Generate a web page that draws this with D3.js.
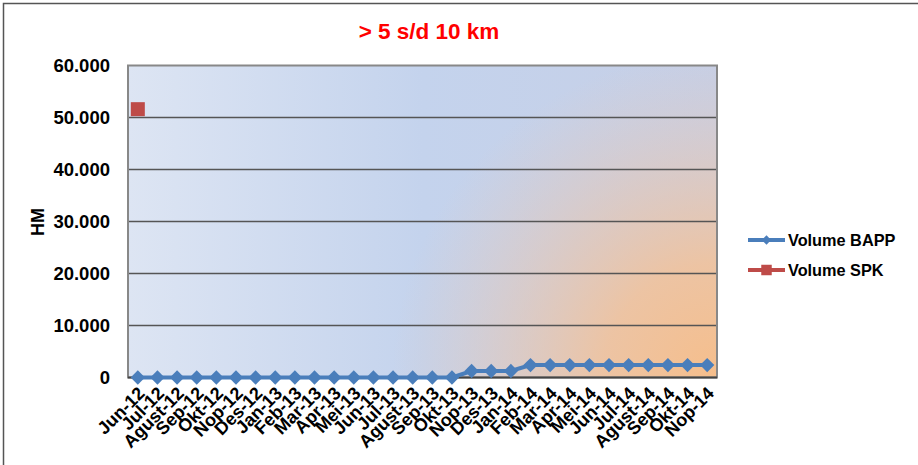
<!DOCTYPE html>
<html>
<head>
<meta charset="utf-8">
<script src="https://cdn.jsdelivr.net/npm/d3@7"></script>
<style>
  body { margin: 0; background: #fff; }
  text { font-family: "Liberation Sans", Arial, sans-serif; font-weight: bold; }
</style>
</head>
<body>
<div id="chart"></div>
<script>
var months = ['Jun-12', 'Jul-12', 'Agust-12', 'Sep-12', 'Okt-12', 'Nop-12', 'Des-12',
  'Jan-13', 'Feb-13', 'Mar-13', 'Apr-13', 'Mei-13', 'Jun-13', 'Jul-13', 'Agust-13',
  'Sep-13', 'Okt-13', 'Nop-13', 'Des-13', 'Jan-14', 'Feb-14', 'Mar-14', 'Apr-14',
  'Mei-14', 'Jun-14', 'Jul-14', 'Agust-14', 'Sep-14', 'Okt-14', 'Nop-14'];
var volumeBAPP = [0, 0, 0, 0, 0, 0, 0, 0, 0, 0, 0, 0, 0, 0, 0, 0, 0,
  1250, 1250, 1250, 2400, 2400, 2400, 2400, 2400, 2400, 2400, 2400, 2400, 2400];
var volumeSPK = [51600];
var yTicks = [0, 10000, 20000, 30000, 40000, 50000, 60000];

var W = 918, H = 465;
var plot = { left: 128, top: 65.5, right: 717, bottom: 377.5 };

var svg = d3.select('#chart').append('svg')
  .attr('width', W).attr('height', H);

// gradients for plot area
var defs = svg.append('defs');
var lin = defs.append('linearGradient').attr('id', 'bgLin')
  .attr('x1', 0).attr('y1', 0).attr('x2', 1).attr('y2', 0);
lin.append('stop').attr('offset', 0).attr('stop-color', '#dde5f3');
lin.append('stop').attr('offset', 0.5).attr('stop-color', '#c4d3ed');
lin.append('stop').attr('offset', 1).attr('stop-color', '#c6cfe6');
var rad = defs.append('radialGradient').attr('id', 'bgRad')
  .attr('gradientUnits', 'userSpaceOnUse')
  .attr('cx', plot.right).attr('cy', plot.bottom).attr('r', 325);
rad.append('stop').attr('offset', 0).attr('stop-color', '#f6be8b').attr('stop-opacity', 1);
rad.append('stop').attr('offset', 0.35).attr('stop-color', '#f2c29a').attr('stop-opacity', 0.88);
rad.append('stop').attr('offset', 1).attr('stop-color', '#e8c8b8').attr('stop-opacity', 0);

// outer frame
svg.append('rect')
  .attr('x', 3.5).attr('y', 3.5).attr('width', W + 10).attr('height', H - 2.5)
  .attr('fill', '#fff').attr('stroke', '#555').attr('stroke-width', 1.5);

var x = d3.scaleBand().domain(months).range([plot.left, plot.right]);
var y = d3.scaleLinear().domain([0, 60000]).range([plot.bottom, plot.top]);
var cx = function(m) { return x(m) + x.bandwidth() / 2; };

svg.append('rect')
  .attr('x', plot.left).attr('y', plot.top)
  .attr('width', plot.right - plot.left).attr('height', plot.bottom - plot.top)
  .attr('fill', 'url(#bgLin)');
svg.append('rect')
  .attr('x', plot.left).attr('y', plot.top)
  .attr('width', plot.right - plot.left).attr('height', plot.bottom - plot.top)
  .attr('fill', 'url(#bgRad)');

// gridlines
svg.append('g').selectAll('line').data(yTicks.slice(1, -1)).enter().append('line')
  .attr('x1', plot.left).attr('x2', plot.right)
  .attr('y1', function(d) { return y(d); }).attr('y2', function(d) { return y(d); })
  .attr('stroke', '#555').attr('stroke-width', 1.3);

// plot border
svg.append('rect')
  .attr('x', plot.left).attr('y', plot.top)
  .attr('width', plot.right - plot.left).attr('height', plot.bottom - plot.top)
  .attr('fill', 'none').attr('stroke', '#888').attr('stroke-width', 2);
svg.append('line')
  .attr('x1', plot.left).attr('x2', plot.right)
  .attr('y1', plot.bottom).attr('y2', plot.bottom)
  .attr('stroke', '#444').attr('stroke-width', 2);

// y axis labels
var yFmt = function(d) { return d === 0 ? '0' : d3.format(',')(d).replace(/,/g, '.'); };
var yAxis = svg.append('g')
  .attr('transform', 'translate(' + plot.left + ',0)')
  .call(d3.axisLeft(y).tickValues(yTicks).tickFormat(yFmt).tickSize(0).tickPadding(18));
yAxis.select('.domain').remove();
yAxis.selectAll('text').attr('font-size', 18.5).attr('fill', '#000')
  .attr('font-family', '"Liberation Sans", Arial, sans-serif');

// x axis labels
var xAxis = svg.append('g')
  .attr('transform', 'translate(0,' + plot.bottom + ')')
  .call(d3.axisBottom(x).tickSize(0).tickPadding(0));
xAxis.select('.domain').remove();
xAxis.selectAll('text')
  .attr('font-size', 18).attr('fill', '#000')
  .attr('font-family', '"Liberation Sans", Arial, sans-serif')
  .attr('text-anchor', 'end')
  .attr('dy', 0).attr('y', 0)
  .attr('transform', 'translate(8,17) rotate(-45)');

// y axis title
svg.append('text')
  .attr('transform', 'translate(44,222) rotate(-90)')
  .attr('text-anchor', 'middle').attr('font-size', 18).attr('fill', '#000')
  .text('HM');

// title
svg.append('text')
  .attr('x', 429).attr('y', 39).attr('text-anchor', 'middle')
  .attr('font-size', 22.5).attr('fill', '#ff0000')
  .text('> 5 s/d 10 km');

// BAPP series
var blue = '#4a7ebb', red = '#be4b48';
var line = d3.line().x(function(d, i) { return cx(months[i]); }).y(function(d) { return y(d); });
svg.append('path').datum(volumeBAPP)
  .attr('d', line).attr('fill', 'none').attr('stroke', blue).attr('stroke-width', 4);
var diamond = d3.symbol().type(d3.symbolDiamond2).size(130);
svg.append('g').selectAll('path').data(volumeBAPP).enter().append('path')
  .attr('d', diamond)
  .attr('transform', function(d, i) { return 'translate(' + cx(months[i]) + ',' + y(d) + ')'; })
  .attr('fill', blue);

// SPK series
svg.append('g').selectAll('rect').data(volumeSPK).enter().append('rect')
  .attr('x', function(d, i) { return cx(months[i]) - 7; })
  .attr('y', function(d) { return y(d) - 7; })
  .attr('width', 14).attr('height', 14)
  .attr('fill', red);

// legend
var legend = [{ name: 'Volume BAPP', color: blue, marker: 'diamond' },
              { name: 'Volume SPK', color: red, marker: 'square' }];
var lg = svg.append('g').selectAll('g').data(legend).enter().append('g')
  .attr('transform', function(d, i) { return 'translate(748,' + (240 + i * 30) + ')'; });
lg.append('line').attr('x1', 0).attr('x2', 37).attr('y1', 0).attr('y2', 0)
  .attr('stroke', function(d) { return d.color; }).attr('stroke-width', 4);
lg.append('path')
  .attr('d', function(d) {
    return d.marker === 'diamond'
      ? d3.symbol().type(d3.symbolDiamond2).size(55)()
      : d3.symbol().type(d3.symbolSquare).size(110)();
  })
  .attr('transform', 'translate(18.5,0)')
  .attr('fill', function(d) { return d.color; });
lg.append('text').attr('x', 40).attr('y', 6).attr('font-size', 16.3).attr('fill', '#000')
  .text(function(d) { return d.name; });
</script>
</body>
</html>
